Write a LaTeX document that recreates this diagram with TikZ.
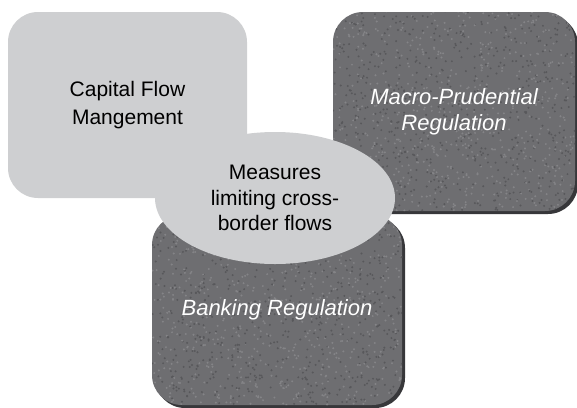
\documentclass[tikz,border=0pt]{standalone}
\usepackage{fontspec}
\setmainfont{Liberation Sans}
\usetikzlibrary{shapes.geometric,shadows,calc}
\definecolor{cfmlight}{RGB}{206, 207, 209}
\definecolor{regdark}{RGB}{110, 110, 113}
\definecolor{regspeckhi}{RGB}{132, 132, 135}
\definecolor{regspecklo}{RGB}{88, 88, 91}
\definecolor{regshadow}{RGB}{55, 55, 58}

\begin{document}
\begin{tikzpicture}[x=1pt, y=-1pt,
  lightbox/.style={fill=cfmlight, rounded corners=30pt, minimum width=239pt, minimum height=186pt, align=center},
  darkbox/.style={fill=regdark, rounded corners=30pt, align=center, text=white, font=\itshape\fontsize{22}{26}\selectfont,
    drop shadow={shadow xshift=3pt, shadow yshift=-3pt, fill=regshadow, opacity=1},
    path picture={
      \coordinate (sw) at (path picture bounding box.south west);
      \foreach \k in {1,...,700} {
        \fill[regspeckhi] ($(sw)+(rnd*255pt,rnd*205pt)$) circle (1.1pt);
        \fill[regspecklo] ($(sw)+(rnd*255pt,rnd*205pt)$) circle (1.1pt);
      }}},
  measureell/.style={ellipse, fill=cfmlight, minimum width=240pt, minimum height=132pt, inner sep=0pt, align=center}]
\pgfmathsetseed{17}
\useasboundingbox (0,0) rectangle (577,407);

% Capital flow box
\node[lightbox, font=\fontsize{21}{28}\selectfont] (cfm) at (127.5,105) {Capital Flow\\Mangement};

% Macro-prudential box
\node[darkbox, minimum width=242pt, minimum height=199pt] (macro) at (454,111.5) {Macro-Prudential\\Regulation};

% Banking box
\node[darkbox, minimum width=250pt, minimum height=190pt] (bank) at (277,310) {Banking Regulation};

% Overlap in the middle
\node[measureell, font=\fontsize{21}{25.5}\selectfont] (measures) at (275,198) {Measures\\limiting cross-\\border flows};
\end{tikzpicture}
\end{document}
